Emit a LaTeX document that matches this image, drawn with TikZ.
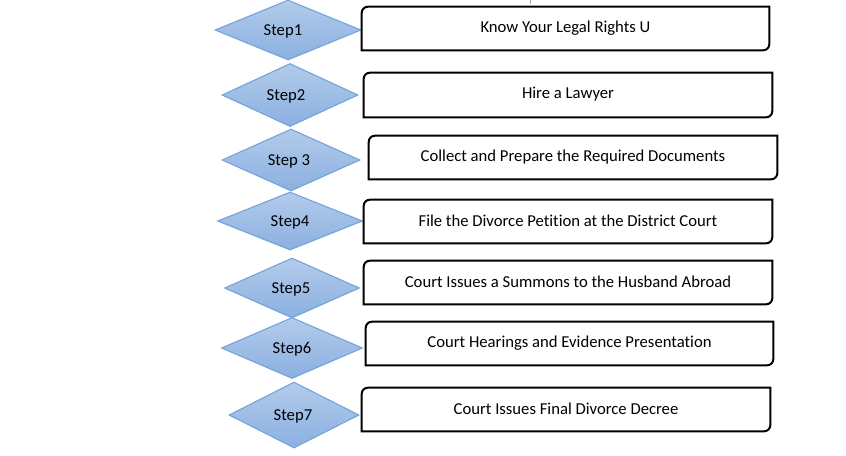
\documentclass[tikz,border=0pt]{standalone}
\usepackage{fontspec}
\setmainfont{Carlito}[Ligatures=NoCommon]
\usetikzlibrary{shapes.geometric,calc}
\def\px{0.75pt}
\tikzset{
  stepdia/.style={diamond, draw=diaedge, line width=0.8pt, shading=axis,
    top color=diatop, bottom color=diabot, inner sep=0pt},
  diatext/.style={inner sep=0pt, font=\fontsize{12.5}{14}\selectfont},
  boxbg/.style={rectangle, inner sep=0pt, font=\fontsize{12.5}{14}\selectfont},
  boxline/.style={line width=1.5pt, black},
}
\definecolor{diatop}{HTML}{B2CBEB}
\definecolor{diabot}{HTML}{8BB0E0}
\definecolor{diaedge}{HTML}{72A3DA}
\begin{document}
\begin{tikzpicture}[x=0.75pt,y=-0.75pt]
\useasboundingbox (0,0) rectangle (846,455);
\fill[white] (0,0) rectangle (846,455);
\draw[gray!70, line width=0.6pt] (530,0) -- (530,3.5);
% diamonds
\node[stepdia, minimum width=146*\px, minimum height=60*\px] (d1) at (288,30) {};
\node[stepdia, minimum width=136*\px, minimum height=63*\px] (d2) at (290,95) {};
\node[stepdia, minimum width=138*\px, minimum height=62*\px] (d3) at (291,160) {};
\node[stepdia, minimum width=145*\px, minimum height=58*\px] (d4) at (290,221) {};
\node[stepdia, minimum width=135*\px, minimum height=60*\px] (d5) at (292,288) {};
\node[stepdia, minimum width=141*\px, minimum height=61*\px] (d6) at (292,348) {};
\node[stepdia, minimum width=130*\px, minimum height=66*\px] (d7) at (294,415) {};
\node[diatext] at ($(d1.center)+(-3.8pt,-1.2pt)$) {Step1};
\node[diatext] at ($(d2.center)+(-3pt,-1.2pt)$) {Step2};
\node[diatext] at ($(d3.center)+(-1.5pt,-1.2pt)$) {Step 3};
\node[diatext] at ($(d4.center)+(0,-1.2pt)$) {Step4};
\node[diatext] at ($(d5.center)+(-0.8pt,-1.2pt)$) {Step5};
\node[diatext] at ($(d6.center)+(0,-1.2pt)$) {Step6};
\node[diatext] at ($(d7.center)+(-0.8pt,-1.2pt)$) {Step7};
% boxes
\node[boxbg, minimum width=407*\px, minimum height=43*\px] (b1) at (565.5,28.5) {};
\node[boxbg, minimum width=408*\px, minimum height=44*\px] (b2) at (568,95) {};
\node[boxbg, minimum width=408*\px, minimum height=43*\px] (b3) at (573,157.5) {};
\node[boxbg, minimum width=408*\px, minimum height=43*\px] (b4) at (568,221.5) {};
\node[boxbg, minimum width=408*\px, minimum height=43*\px] (b5) at (568,282.5) {};
\node[boxbg, minimum width=407*\px, minimum height=43*\px] (b6) at (569.5,343.5) {};
\node[boxbg, minimum width=408*\px, minimum height=43*\px] (b7) at (566,409.5) {};
\foreach \b in {b1,b2,b3,b4,b5,b6,b7}{
  \draw[boxline] (\b.south west) -- ($(\b.north west)+(0,-4.5pt)$)
     arc[start angle=180,end angle=90,radius=4.5pt] -- (\b.north east)
     -- ($(\b.south east)+(0,4.5pt)$)
     arc[start angle=0,end angle=-90,radius=4.5pt] -- cycle;
}
\node[boxbg] at ($(b1.center)+(0,0.5pt)$) {Know Your Legal Rights U};
\node[boxbg] at ($(b2.center)+(0,0.5pt)$) {Hire a Lawyer};
\node[boxbg] at ($(b3.center)+(0,0.5pt)$) {Collect and Prepare the Required Documents};
\node[boxbg] at ($(b4.center)+(0,0.5pt)$) {File the Divorce Petition at the District Court};
\node[boxbg] at ($(b5.center)+(0,0.5pt)$) {Court Issues a Summons to the Husband Abroad};
\node[boxbg] at ($(b6.center)+(0,0.5pt)$) {Court Hearings and Evidence Presentation};
\node[boxbg] at ($(b7.center)+(0,0.5pt)$) {Court Issues Final Divorce Decree};
\end{tikzpicture}
\end{document}
